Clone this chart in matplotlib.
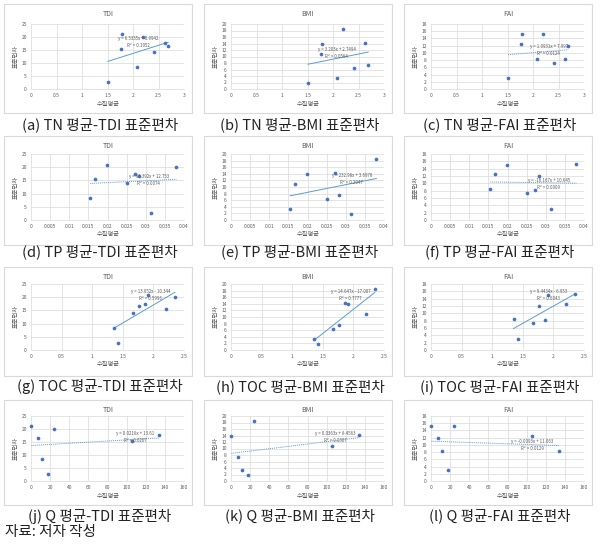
import numpy as np
import matplotlib
matplotlib.use('Agg')
import matplotlib.pyplot as plt
from matplotlib.patches import Rectangle
from matplotlib.ticker import MultipleLocator, FuncFormatter

plt.rcParams['font.family'] = ['Noto Sans CJK KR', 'DejaVu Sans']

# site order: A..H (site F has no Q value)
tn_mean = [1.51, 1.76, 1.79, 2.07, 2.20, 2.42, 2.63, 2.69]
tp_mean = [0.0313, 0.0167, 0.0198, 0.0155, 0.0380, 0.0250, 0.0272, 0.0282]
toc_mean = [1.42, 2.20, 1.91, 1.35, 2.35, 1.66, 1.86, 1.76]
q_mean = [18, 106, 0.5, 11, 24, np.nan, 134, 7.5]

tdi_sd = [2.8, 15.5, 21.0, 8.4, 20.1, 14.2, 17.6, 16.6]
bmi_sd = [1.9, 10.9, 13.9, 3.4, 18.4, 6.5, 14.3, 7.5]
fai_sd = [3.1, 12.5, 15.1, 8.4, 15.2, 7.3, 8.3, 11.9]

x_names = ['TN', 'TP', 'TOC', 'Q']
y_names = ['TDI', 'BMI', 'FAI']
letters = 'abcdefghijkl'

eq_labels = [
    'y = 6.5335x + 0.9942\nR² = 0.1952',
    'y = 3.203x + 2.7494\nR² = 0.0564',
    'y = 1.0931x + 7.997\nR² = 0.0124',
    'y = 93.392x + 12.753\nR² = 0.0074',
    'y = 232.98x + 3.6978\nR² = 0.2047',
    'y = -16.167x + 10.645\nR² = 0.0009',
    'y = 13.652x - 10.344\nR² = 0.5996',
    'y = 14.647x - 17.007\nR² = 0.7777',
    'y = 9.4434x - 6.953\nR² = 0.6043',
    'y = 0.0216x + 13.61\nR² = 0.0207',
    'y = 0.0363x + 8.4563\nR² = 0.0307',
    'y = -0.0093x + 11.063\nR² = 0.0129',
]

# layout (pixels)
W, H = 601, 545
x_cols = [tn_mean, tp_mean, toc_mean, q_mean]
y_cols = [tdi_sd, bmi_sd, fai_sd]
xlims = [(3, 0.5), (0.04, 0.005), (2.5, 0.5), (160, 20)]
ylims = [(25, 5), (20, 2), (18, 2)]
box_rows = [(4, 113), (136, 245), (267, 376), (400, 505)]
ax_rows = [(24, 89), (154, 220), (284, 350), (416, 481)]
cap_rows = [125, 252, 387, 516]
eq_pos = [(0.70, 0.73), (0.69, 0.56), (0.77, 0.60),
          (0.77, 0.61), (0.79, 0.62), (0.77, 0.55),
          (0.78, 0.84), (0.78, 0.84), (0.77, 0.83),
          (0.68, 0.67), (0.68, 0.67), (0.66, 0.55)]
dotted = [False, False, True, True, False, True, False, False, False, True, True, True]

grey = '#595959'
blue = '#4472c4'
trend_c = '#5b9bd5'

fig = plt.figure(figsize=(W / 100, H / 100), dpi=100)


def fx(px):
    return px / W


def fy(py):
    return 1 - py / H


fmt = FuncFormatter(lambda v, p: '{:g}'.format(round(v, 4)))

for r in range(4):
    for c in range(3):
        k = r * 3 + c
        off = 200 * c
        bt, bb = box_rows[r]
        fig.add_artist(Rectangle((fx(off + 4), fy(bb)), fx(188), (bb - bt) / H,
                                 transform=fig.transFigure, facecolor='white',
                                 edgecolor='#d9d9d9', lw=0.8, zorder=-5))
        at, ab = ax_rows[r]
        ax = fig.add_axes([fx(off + 31), fy(ab), fx(153), (ab - at) / H])
        ax.set_facecolor('none')
        x = np.array(x_cols[r], dtype=float)
        y = np.array(y_cols[c], dtype=float)
        ok = ~np.isnan(x)
        ax.scatter(x[ok], y[ok], s=7, color=blue, zorder=3, linewidths=0,
                   clip_on=False)
        m, b = np.polyfit(x[ok], y[ok], 1)
        xs = np.array([x[ok].min(), x[ok].max()])
        ax.plot(xs, m * xs + b, color=trend_c, lw=0.7,
                ls=(0, (1, 1)) if dotted[k] else '-', zorder=2)
        ax.text(eq_pos[k][0], eq_pos[k][1], eq_labels[k], transform=ax.transAxes,
                fontsize=3.2, color=grey, ha='center', va='center',
                linespacing=1.5, zorder=4)
        xmax, xstep = xlims[r]
        ymax, ystep = ylims[c]
        ax.set_xlim(0, xmax)
        ax.set_ylim(0, ymax)
        ax.xaxis.set_major_locator(MultipleLocator(xstep))
        ax.yaxis.set_major_locator(MultipleLocator(ystep))
        ax.xaxis.set_major_formatter(fmt)
        ax.yaxis.set_major_formatter(fmt)
        ax.tick_params(length=0, labelsize=3.5, labelcolor=grey, pad=3)
        ax.grid(True, color='#d9d9d9', lw=0.5)
        ax.set_axisbelow(True)
        for s in ['top', 'right', 'left']:
            ax.spines[s].set_visible(False)
        ax.spines['bottom'].set_color('#d9d9d9')
        ax.spines['bottom'].set_linewidth(0.5)
        # chart title and axis titles
        fig.text(fx(off + 108), fy(bt + 10), y_names[c], fontsize=5,
                 color=grey, ha='center', va='center')
        fig.text(fx(off + 108), fy(ab + 14.5), '수질평균', fontsize=4.5,
                 color=grey, ha='center', va='center')
        fig.text(fx(off + 16), fy((at + ab) / 2), '표준편차', fontsize=4.5,
                 color=grey, ha='center', va='center', rotation=90)
        caption = '({}) {} 평균-{} 표준편차'.format(letters[k], x_names[r], y_names[c])
        fig.text(fx(off + 100), fy(cap_rows[r]), caption, fontsize=10.5,
                 color='#222222', ha='center', va='center')

fig.text(fx(5), fy(532), '자료: 저자 작성', fontsize=10.5, color='#222222',
         ha='left', va='center')

fig.savefig('out.png', dpi=100, facecolor='white')
